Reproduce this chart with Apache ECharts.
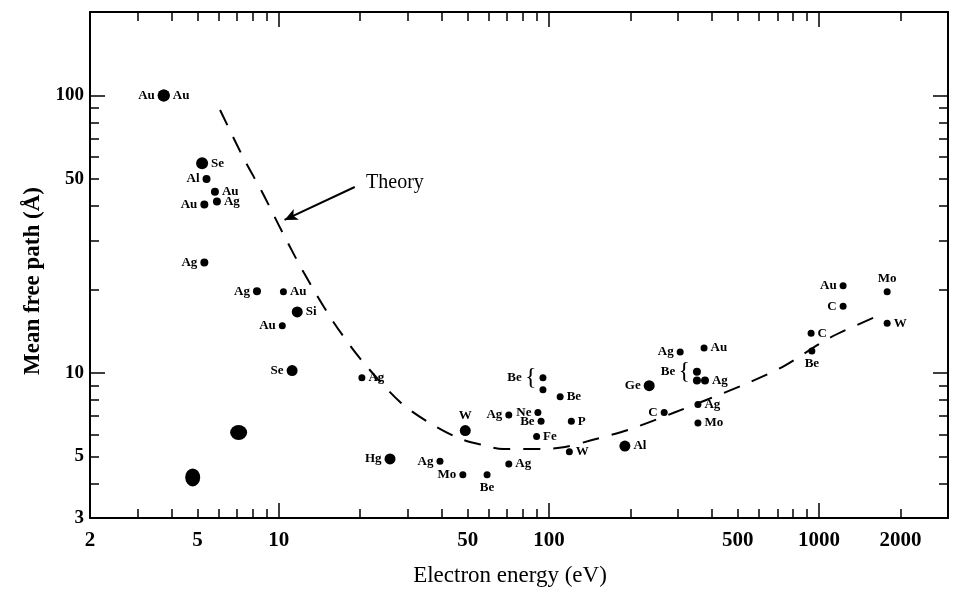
<!DOCTYPE html>
<html><head><meta charset="utf-8">
<script src="https://cdn.jsdelivr.net/npm/echarts@6/dist/echarts.min.js"></script>
<style>html,body{margin:0;padding:0;background:#fff}#c{width:954px;height:594px}</style>
</head><body><div id="c"></div>
<script>
// ---- measured data (electron energy in eV, mean free path in Å) ----
const energy = [3.75, 3.75, 5.2, 5.4, 5.8, 5.9, 5.3, 5.3, 8.3, 10.4, 11.7, 10.3, 11.2, 20.3, 7.1, 4.8,
  25.8, 49, 39.5, 48, 59, 71, 71, 91, 93.5, 90, 119, 121, 110, 95, 95,
  306, 375, 235, 353, 353, 378, 356, 356, 267, 191, 1227, 1227, 1786, 1786, 934, 940];
const mfp = [100, 100, 57, 50, 45, 41.5, 40.5, 25, 19.7, 19.6, 16.6, 14.8, 10.2, 9.6, 6.1, 4.2,
  4.9, 6.2, 4.8, 4.3, 4.3, 4.7, 7.05, 7.2, 6.7, 5.9, 5.2, 6.7, 8.2, 9.6, 8.7,
  11.9, 12.3, 9.0, 10.1, 9.4, 9.4, 7.7, 6.6, 7.2, 5.45, 20.6, 17.4, 19.6, 15.1, 13.9, 12.0];
const element = ['Au', 'Au', 'Se', 'Al', 'Au', 'Ag', 'Au', 'Ag', 'Ag', 'Au', 'Si', 'Au', 'Se', 'Ag', '', '',
  'Hg', 'W', 'Ag', 'Mo', 'Be', 'Ag', 'Ag', 'Ne', 'Be', 'Fe', 'W', 'P', 'Be', 'Be', 'Be',
  'Ag', 'Au', 'Ge', 'Be', 'Be', 'Ag', 'Ag', 'Mo', 'C', 'Al', 'Au', 'C', 'Mo', 'W', 'C', 'Be'];

// theory curve
const theoryEnergy = [6.06, 7.37, 8.67, 10.3, 12.4, 15.9, 20.5, 28.1, 35.7, 46.1, 56.6, 67.6, 94.3, 114.7, 144.4, 196, 288, 523, 730, 1098, 1711];
const theoryMfp = [88.7, 60.0, 44.9, 32.2, 22.9, 15.3, 10.95, 7.86, 6.65, 5.83, 5.5, 5.32, 5.32, 5.41, 5.73, 6.23, 7.17, 9.05, 10.5, 13.4, 16.3];

// axis ticks & labels
const xTickLabels = [2, 5, 10, 50, 100, 500, 1000, 2000];
const xMinorTicks = [3, 4, 5, 6, 7, 8, 9, 20, 30, 40, 50, 60, 70, 80, 90, 200, 300, 400, 500, 600, 700, 800, 900, 2000];
const xMajorTicks = [10, 100, 1000];
const yTickLabels = [3, 5, 10, 50, 100];
const yMinorTicks = [4, 5, 6, 7, 8, 9, 20, 30, 40, 50, 60, 70, 80, 90];
const yMajorTicks = [10, 100];

// annotation
const arrowFrom = [19.1, 46.8];
const arrowTo = [10.5, 35.6];
const theoryTextAt = [26.9, 48.4];

// ---- styling (label sides, dot sizes) ----
const side = ['l', 'r', 'rt', 'l', 'rt', 'rb', 'l', 'l', 'l', 'r', 'r', 'l', 'l', 'r', '', '',
  'l', 't', 'l', 'l', 'b', 'r', 'l', 'lt', 'l', 'r', 'r', 'r', 'r', 'brace12', '',
  'l', 'r', 'l', 'brace8', '', 'rb', 'r', 'r', 'l', 'r', 'l', 'l', 't', 'r', 'rb', 'b'];
const dot = [12, 12, 12, 8, 8, 8, 8, 8, 8, 7, 11, 7, 11, 7, [17, 15], [15, 18],
  11, 11, 7, 7, 7, 7, 7, 7, 7, 7, 7, 7, 7, 7, 7,
  7, 7, 11, 8, 8, 8, 7, 7, 7, 11, 7, 7, 7, 7, 7, 7];

const SERIF = '"Liberation Serif", "DejaVu Serif", serif';

function labelFor(s) {
  const base = { show: s !== '', distance: 3 };
  switch (s) {
    case 'l': return Object.assign(base, { position: 'left' });
    case 'r': return Object.assign(base, { position: 'right' });
    case 't': return Object.assign(base, { position: 'top' });
    case 'b': return Object.assign(base, { position: 'bottom' });
    case 'rt': return Object.assign(base, { position: 'right', offset: [0, -6] });
    case 'rb': return Object.assign(base, { position: 'right', offset: [0, 6] });
    case 'lt': return Object.assign(base, { position: 'left', offset: [2, -4] });
    case 'brace12': return Object.assign(base, { position: 'left', offset: [0, 6] });
    case 'brace8': return Object.assign(base, { position: 'left', offset: [0, 4] });
    default: return base;
  }
}

const points = energy.map((e, i) => ({
  value: [e, mfp[i]],
  symbolSize: dot[i],
  label: labelFor(side[i])
}));

const axisLineStyle = { color: '#000', width: 2 };
const tickStyle = { color: '#000', width: 1.5 };

function xAxisDef(pos, ticks, len, showLine, labels, extra) {
  return Object.assign({
    type: 'log', logBase: 10, min: 2, max: 3000, position: pos, gridIndex: 0,
    axisLine: { show: showLine, onZero: false, lineStyle: axisLineStyle },
    axisTick: { show: true, inside: true, length: len, customValues: ticks, lineStyle: tickStyle },
    axisLabel: labels ? {
      customValues: labels, margin: 12, fontFamily: SERIF, fontSize: 21, fontWeight: 'bold', color: '#000',
      formatter: v => String(Math.round(v))
    } : { show: false },
    splitLine: { show: false }, minorTick: { show: false }
  }, extra || {});
}
function yAxisDef(pos, ticks, len, showLine, labels, extra) {
  return Object.assign({
    type: 'log', logBase: 10, min: 3, max: 200, position: pos, gridIndex: 0,
    axisLine: { show: showLine, onZero: false, lineStyle: axisLineStyle },
    axisTick: { show: true, inside: true, length: len, customValues: ticks, lineStyle: tickStyle },
    axisLabel: labels ? {
      customValues: labels, margin: 6, fontFamily: SERIF, fontSize: 19, fontWeight: 'bold', color: '#000',
      formatter: v => String(Math.round(v))
    } : { show: false },
    splitLine: { show: false }, minorTick: { show: false }
  }, extra || {});
}

const option = {
  animation: false,
  backgroundColor: '#fff',
  grid: { left: 90, right: 6, top: 12, bottom: 76, containLabel: false },
  xAxis: [
    xAxisDef('bottom', xMinorTicks, 9, true, xTickLabels, {
      name: 'Electron energy (eV)', nameLocation: 'middle', nameGap: 46,
      nameTextStyle: { fontFamily: SERIF, fontSize: 23, color: '#000', padding: [0, 18, 0, 0] }
    }),
    xAxisDef('bottom', xMajorTicks, 15, false, null),
    xAxisDef('top', xMinorTicks, 9, true, null),
    xAxisDef('top', xMajorTicks, 15, false, null)
  ],
  yAxis: [
    yAxisDef('left', yMinorTicks, 9, true, yTickLabels, {
      name: 'Mean free path (Å)', nameLocation: 'middle', nameGap: 42,
      nameTextStyle: { fontFamily: SERIF, fontSize: 23, fontWeight: 'bold', color: '#000', padding: [0, 32, 0, 0] }
    }),
    yAxisDef('left', yMajorTicks, 15, false, null),
    yAxisDef('right', yMinorTicks, 9, true, null),
    yAxisDef('right', yMajorTicks, 15, false, null)
  ],
  series: [
    {
      type: 'line', xAxisIndex: 0, yAxisIndex: 0,
      data: theoryEnergy.map((e, i) => [e, theoryMfp[i]]),
      smooth: 0.3, symbol: 'none', silent: true,
      lineStyle: { color: '#000', width: 2, type: [17, 13] },
      markLine: {
        silent: true, symbol: ['none', 'arrow'], symbolSize: [9, 13],
        lineStyle: { color: '#000', width: 2, type: 'solid' },
        label: { show: false },
        data: [[{ coord: arrowFrom }, { coord: arrowTo }]]
      },
      markPoint: {
        silent: true, symbol: 'rect', symbolSize: [1, 1],
        itemStyle: { color: 'rgba(0,0,0,0)' },
        label: { show: true, position: 'inside', formatter: 'Theory', fontFamily: SERIF, fontSize: 20, color: '#000' },
        data: [{ coord: theoryTextAt, value: 'Theory' }]
      }
    },
    {
      type: 'scatter', xAxisIndex: 0, yAxisIndex: 0,
      symbol: 'circle', itemStyle: { color: '#000', opacity: 1 },
      label: {
        fontFamily: SERIF, fontSize: 13, fontWeight: 'bold', color: '#000',
        formatter: p => side[p.dataIndex].indexOf('brace') === 0
          ? '{el|' + element[p.dataIndex] + '} {br|{}'
          : element[p.dataIndex],
        rich: {
          el: { fontFamily: SERIF, fontSize: 13, fontWeight: 'bold', color: '#000' },
          br: { fontFamily: SERIF, fontSize: 24, fontWeight: 'normal', color: '#000' }
        }
      },
      labelLayout: { hideOverlap: false },
      data: points
    }
  ]
};

const chart = echarts.init(document.getElementById('c'), null, { renderer: 'canvas' });
chart.setOption(option);
</script>
</body></html>
